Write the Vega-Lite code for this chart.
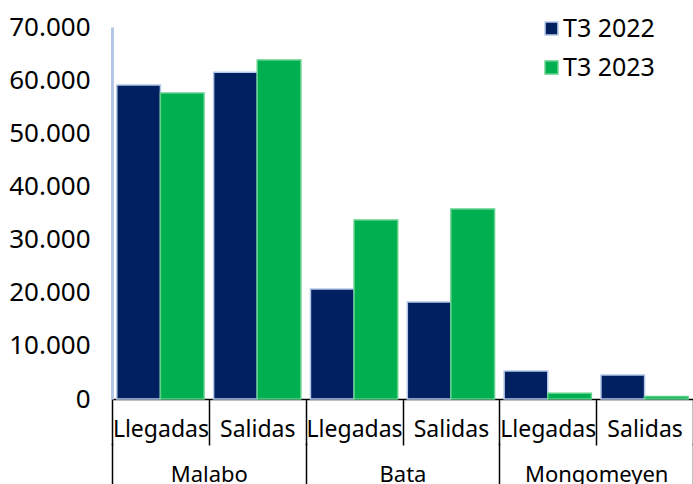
{
  "$schema": "https://vega.github.io/schema/vega-lite/v6.json",
  "width": 581,
  "height": 372,
  "autosize": "none",
  "padding": {"left": 112, "top": 27, "right": 0, "bottom": 85},
  "background": "white",
  "config": {
    "view": {"stroke": null},
    "font": "Noto Sans",
    "axis": {"labelFont": "Noto Sans", "labelColor": "#000000", "grid": false},
    "legend": {"labelFont": "Noto Sans"}
  },
  "data": {
    "values": [
      {"city": "Malabo", "sub": "Llegadas", "slot": "Malabo|Llegadas", "year": "T3 2022", "value": 59100},
      {"city": "Malabo", "sub": "Llegadas", "slot": "Malabo|Llegadas", "year": "T3 2023", "value": 57600},
      {"city": "Malabo", "sub": "Salidas", "slot": "Malabo|Salidas", "year": "T3 2022", "value": 61500},
      {"city": "Malabo", "sub": "Salidas", "slot": "Malabo|Salidas", "year": "T3 2023", "value": 63800},
      {"city": "Bata", "sub": "Llegadas", "slot": "Bata|Llegadas", "year": "T3 2022", "value": 20700},
      {"city": "Bata", "sub": "Llegadas", "slot": "Bata|Llegadas", "year": "T3 2023", "value": 33700},
      {"city": "Bata", "sub": "Salidas", "slot": "Bata|Salidas", "year": "T3 2022", "value": 18250},
      {"city": "Bata", "sub": "Salidas", "slot": "Bata|Salidas", "year": "T3 2023", "value": 35750},
      {"city": "Mongomeyen", "sub": "Llegadas", "slot": "Mongomeyen|Llegadas", "year": "T3 2022", "value": 5270},
      {"city": "Mongomeyen", "sub": "Llegadas", "slot": "Mongomeyen|Llegadas", "year": "T3 2023", "value": 1100},
      {"city": "Mongomeyen", "sub": "Salidas", "slot": "Mongomeyen|Salidas", "year": "T3 2022", "value": 4500},
      {"city": "Mongomeyen", "sub": "Salidas", "slot": "Mongomeyen|Salidas", "year": "T3 2023", "value": 450}
    ]
  },
  "resolve": {"scale": {"x": "independent"}},
  "layer": [
    {
      "mark": {"type": "bar", "strokeWidth": 1.5},
      "encoding": {
        "x": {
          "field": "slot",
          "type": "nominal",
          "sort": null,
          "scale": {"type": "band", "paddingInner": 0, "paddingOuter": 0},
          "axis": {
            "orient": "bottom",
            "title": null,
            "labelExpr": "split(datum.label, '|')[1]",
            "labelAngle": 0,
            "labelFontSize": 23,
            "labelPadding": -27,
            "domainColor": "#000000",
            "domainWidth": 1.5,
            "tickBand": "extent",
            "tickColor": "#000000",
            "tickWidth": 1.5,
            "tickSize": 46
          }
        },
        "xOffset": {"field": "year", "type": "nominal", "scale": {"paddingInner": 0, "paddingOuter": 0.11}},
        "y": {
          "field": "value",
          "type": "quantitative",
          "scale": {"domain": [0, 70000], "nice": false},
          "axis": {
            "title": null,
            "values": [0, 10000, 20000, 30000, 40000, 50000, 60000, 70000],
            "labelExpr": "replace(format(datum.value, ','), ',', '.')",
            "labelFontSize": 26,
            "labelPadding": 22,
            "ticks": false,
            "domainColor": "#b4c7e7",
            "domainWidth": 3
          }
        },
        "color": {
          "field": "year",
          "type": "nominal",
          "scale": {"domain": ["T3 2022", "T3 2023"], "range": ["#002060", "#00b050"]},
          "legend": {
            "title": null,
            "orient": "none",
            "legendX": 427,
            "legendY": -11,
            "symbolType": "square",
            "symbolSize": 165,
            "labelFontSize": 25,
            "labelOffset": -1,
            "rowPadding": 13,
            "labelColor": "#000000"
          }
        },
        "stroke": {
          "field": "year",
          "type": "nominal",
          "scale": {"domain": ["T3 2022", "T3 2023"], "range": ["#b4c7e7", "#5fd08a"]},
          "legend": null
        }
      }
    },
    {
      "mark": {"type": "rule", "opacity": 0},
      "encoding": {
        "x": {
          "field": "city",
          "type": "nominal",
          "sort": ["Malabo", "Bata", "Mongomeyen"],
          "scale": {"type": "band", "paddingInner": 0, "paddingOuter": 0},
          "axis": {
            "orient": "bottom",
            "title": null,
            "offset": 44,
            "domain": false,
            "labelAngle": 0,
            "labelFontSize": 22,
            "labelPadding": -21,
            "tickBand": "extent",
            "tickColor": "#000000",
            "tickWidth": 1.5,
            "tickSize": 42
          }
        }
      }
    }
  ]
}
